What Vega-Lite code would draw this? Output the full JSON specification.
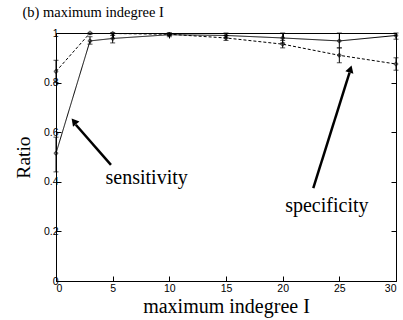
{
  "$schema": "https://vega.github.io/schema/vega-lite/v6.json",
  "autosize": "none",
  "width": 340,
  "height": 248,
  "padding": {"left": 56, "top": 33, "right": 7, "bottom": 39},
  "background": "white",
  "config": {
    "view": {"stroke": "black", "strokeWidth": 1},
    "axis": {"grid": false, "domainColor": "black", "tickColor": "black", "labelColor": "black", "titleColor": "black", "labelFont": "Liberation Sans", "labelFontSize": 10.5, "titleFont": "Liberation Serif", "titleFontWeight": "normal", "tickSize": -5, "domain": false}
  },
  "datasets": {
    "series": [
      {"I": 0, "ratio": 0.515, "lo": 0.44, "hi": 0.58, "series": "sensitivity"},
      {"I": 3, "ratio": 0.968, "lo": 0.955, "hi": 0.985, "series": "sensitivity"},
      {"I": 5, "ratio": 0.978, "lo": 0.96, "hi": 1.0, "series": "sensitivity"},
      {"I": 10, "ratio": 0.993, "lo": 0.985, "hi": 1.0, "series": "sensitivity"},
      {"I": 15, "ratio": 0.99, "lo": 0.98, "hi": 1.0, "series": "sensitivity"},
      {"I": 20, "ratio": 0.98, "lo": 0.96, "hi": 1.0, "series": "sensitivity"},
      {"I": 25, "ratio": 0.968, "lo": 0.94, "hi": 1.0, "series": "sensitivity"},
      {"I": 30, "ratio": 0.99, "lo": 0.975, "hi": 1.0, "series": "sensitivity"},
      {"I": 0, "ratio": 0.845, "lo": 0.8, "hi": 0.89, "series": "specificity"},
      {"I": 3, "ratio": 1.0, "lo": 0.995, "hi": 1.0, "series": "specificity"},
      {"I": 5, "ratio": 0.998, "lo": 0.99, "hi": 1.0, "series": "specificity"},
      {"I": 10, "ratio": 0.995, "lo": 0.99, "hi": 1.0, "series": "specificity"},
      {"I": 15, "ratio": 0.98, "lo": 0.97, "hi": 0.99, "series": "specificity"},
      {"I": 20, "ratio": 0.955, "lo": 0.94, "hi": 0.97, "series": "specificity"},
      {"I": 25, "ratio": 0.91, "lo": 0.88, "hi": 0.94, "series": "specificity"},
      {"I": 30, "ratio": 0.875, "lo": 0.85, "hi": 0.9, "series": "specificity"}
    ],
    "arrows": [
      {"x": 4.85, "y": 0.468, "x2": 1.75, "y2": 0.63, "hx": 1.65, "hy": 0.64, "angle": 320.6},
      {"x": 22.7, "y": 0.375, "x2": 25.9, "y2": 0.84, "hx": 25.95, "hy": 0.85, "angle": 17.6}
    ],
    "labels": [
      {"x": 8.0, "y": 0.415, "text": "sensitivity"},
      {"x": 23.9, "y": 0.302, "text": "specificity"}
    ]
  },
  "layer": [
    {
      "layer": [
        {
          "data": {"name": "series"},
          "mark": {"type": "line", "color": "black", "strokeWidth": 1, "clip": true},
          "encoding": {
            "x": {"field": "I", "type": "quantitative", "scale": {"domain": [0, 30], "nice": false}, "axis": {"orient": "bottom", "values": [0, 5, 10, 15, 20, 25, 30], "title": "maximum indegree I", "titleFontSize": 20, "titlePadding": 3, "labelPadding": 7}},
            "y": {"field": "ratio", "type": "quantitative", "scale": {"domain": [0, 1], "nice": false}, "axis": {"orient": "left", "values": [0, 0.2, 0.4, 0.6, 0.8, 1], "format": "~g", "title": "Ratio", "titleFontSize": 19.5, "titlePadding": 10, "labelPadding": 3}},
            "strokeDash": {"field": "series", "type": "nominal", "scale": {"domain": ["sensitivity", "specificity"], "range": [[1, 0], [3, 2]]}, "legend": null}
          }
        },
        {
          "data": {"name": "series"},
          "mark": {"type": "rule", "color": "black", "strokeWidth": 1},
          "encoding": {
            "x": {"field": "I", "type": "quantitative"},
            "y": {"field": "lo", "type": "quantitative"},
            "y2": {"field": "hi"}
          }
        },
        {
          "data": {"name": "series"},
          "mark": {"type": "tick", "color": "black", "orient": "horizontal", "size": 5, "thickness": 1},
          "encoding": {
            "x": {"field": "I", "type": "quantitative"},
            "y": {"field": "lo", "type": "quantitative"}
          }
        },
        {
          "data": {"name": "series"},
          "mark": {"type": "tick", "color": "black", "orient": "horizontal", "size": 5, "thickness": 1},
          "encoding": {
            "x": {"field": "I", "type": "quantitative"},
            "y": {"field": "hi", "type": "quantitative"}
          }
        },
        {
          "data": {"name": "series"},
          "mark": {"type": "point", "shape": "cross", "color": "black", "size": 12, "strokeWidth": 1, "filled": false},
          "encoding": {
            "x": {"field": "I", "type": "quantitative"},
            "y": {"field": "ratio", "type": "quantitative"}
          }
        },
        {
          "data": {"name": "arrows"},
          "mark": {"type": "rule", "color": "black", "strokeWidth": 2.5},
          "encoding": {
            "x": {"field": "x", "type": "quantitative"},
            "y": {"field": "y", "type": "quantitative"},
            "x2": {"field": "x2"},
            "y2": {"field": "y2"}
          }
        },
        {
          "data": {"name": "arrows"},
          "mark": {"type": "point", "shape": "triangle", "filled": true, "color": "black", "size": 70, "opacity": 1},
          "encoding": {
            "x": {"field": "hx", "type": "quantitative"},
            "y": {"field": "hy", "type": "quantitative"},
            "angle": {"field": "angle", "type": "quantitative", "scale": null}
          }
        },
        {
          "data": {"name": "labels"},
          "mark": {"type": "text", "font": "Liberation Serif", "fontSize": 20, "color": "black", "align": "center", "baseline": "middle"},
          "encoding": {
            "x": {"field": "x", "type": "quantitative"},
            "y": {"field": "y", "type": "quantitative"},
            "text": {"field": "text"}
          }
        }
      ]
    },
    {
      "data": {"name": "labels"},
      "mark": {"type": "point", "opacity": 0},
      "encoding": {
        "x": {"field": "x", "type": "quantitative", "axis": {"orient": "top", "values": [0, 5, 10, 15, 20, 25, 30], "labels": false, "title": "(b) maximum indegree I", "titleFontSize": 14.5, "titleX": -34, "titleY": -17, "titleAlign": "left", "titleAnchor": null, "titleBaseline": "alphabetic"}},
        "y": {"field": "y", "type": "quantitative", "axis": {"orient": "right", "values": [0, 0.2, 0.4, 0.6, 0.8, 1], "labels": false, "title": null}}
      }
    }
  ],
  "resolve": {"axis": {"x": "independent", "y": "independent"}}
}
